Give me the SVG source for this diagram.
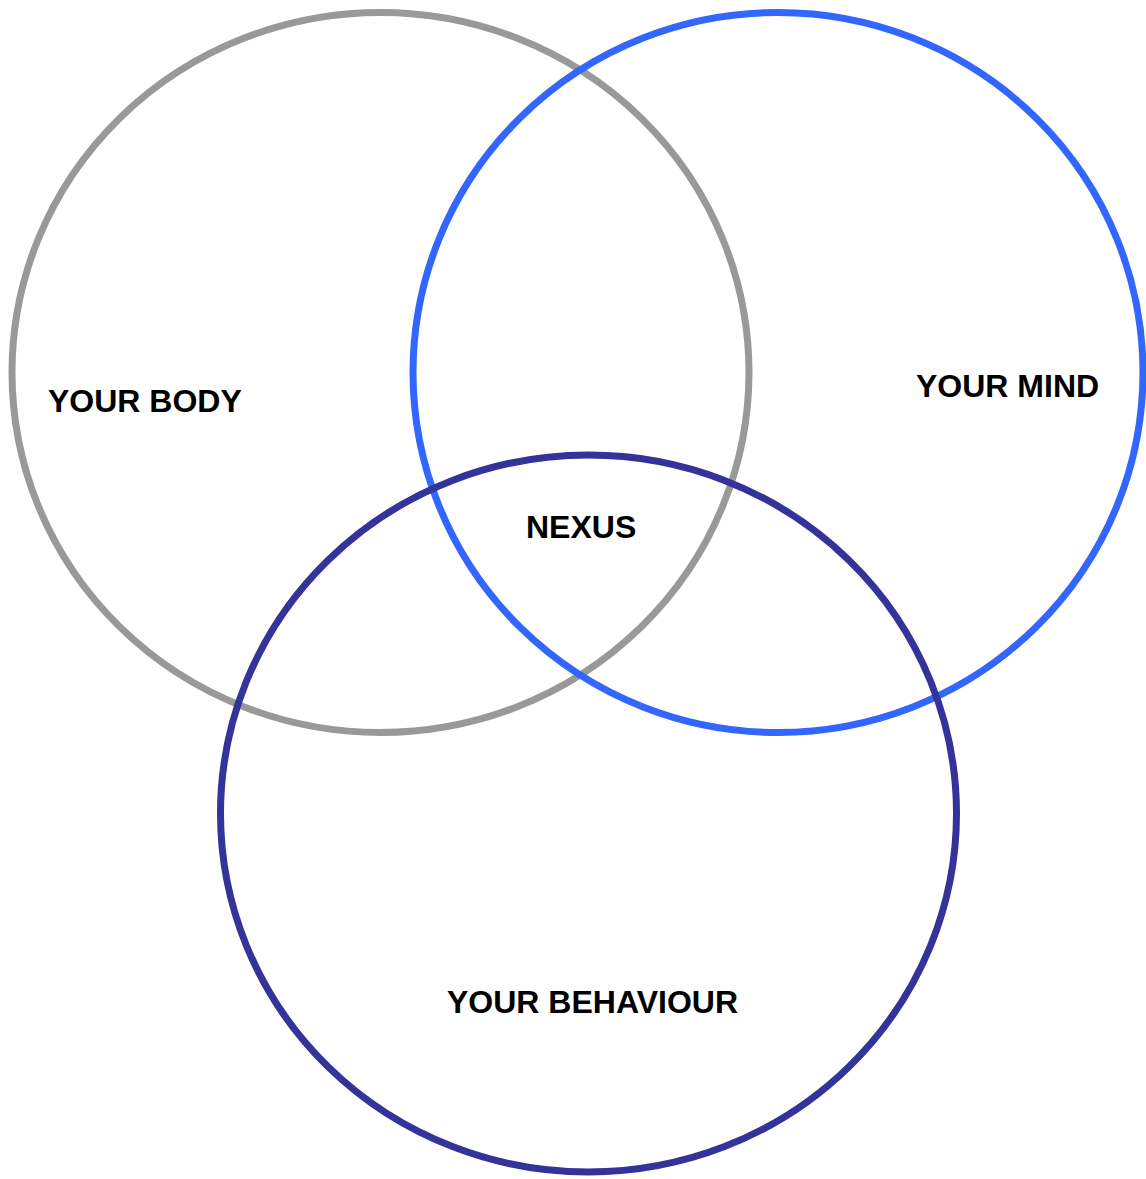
<svg xmlns="http://www.w3.org/2000/svg" width="1146" height="1179" viewBox="0 0 1146 1179">
<style>
.c{fill:none;stroke-width:7}
.t{font-family:"Liberation Sans",Arial,sans-serif;font-weight:bold;font-size:32px;fill:#000}
</style>
<rect width="1146" height="1179" fill="#fff"/>
<g id="body"><ellipse class="c" cx="380.5" cy="372.5" rx="368.5" ry="360" stroke="#999999"/><text class="t" x="48" y="412">YOUR BODY</text></g>
<g id="mind"><ellipse class="c" cx="778" cy="372.5" rx="365" ry="360" stroke="#3366ff"/><text class="t" x="916" y="397">YOUR MIND</text></g>
<g id="behaviour"><ellipse class="c" cx="588.5" cy="813.5" rx="368" ry="358.5" stroke="#333399"/><text class="t" x="447" y="1013">YOUR BEHAVIOUR</text></g>
<g id="nexus"><text class="t" x="526" y="538">NEXUS</text></g>
<g id="connectors"/>
</svg>
